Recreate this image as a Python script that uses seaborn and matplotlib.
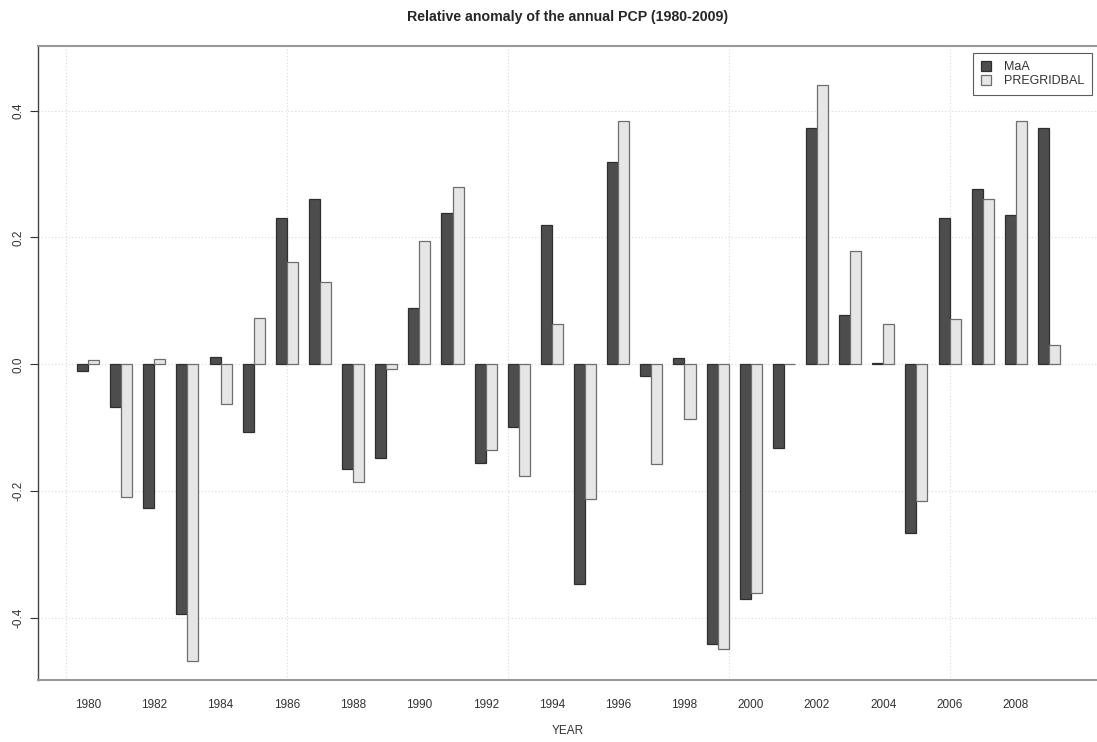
import numpy as np
import pandas as pd
import matplotlib
matplotlib.use("Agg")
import matplotlib.pyplot as plt
import seaborn as sns
from matplotlib.patches import Patch

years = list(range(1980, 2010))
maa = [-0.011, -0.068, -0.226, -0.394, 0.012, -0.107, 0.230, 0.260, -0.165, -0.148,
       0.089, 0.239, -0.155, -0.099, 0.220, -0.346, 0.319, -0.018, 0.010, -0.441,
       -0.370, -0.132, 0.373, 0.077, 0.002, -0.266, 0.230, 0.276, 0.236, 0.372]
pregridbal = [0.007, -0.209, 0.009, -0.468, -0.062, 0.073, 0.161, 0.129, -0.186, -0.008,
              0.195, 0.280, -0.136, -0.177, 0.063, -0.213, 0.383, -0.157, -0.086, -0.449,
              -0.360, 0.001, 0.440, 0.179, 0.064, -0.215, 0.071, 0.260, 0.384, 0.030]
series_names = ["MaA", "PREGRIDBAL"]
ytick_vals = [-0.4, -0.2, 0.0, 0.2, 0.4]
xtick_labels = [str(y) for y in years[::2]]

df = pd.DataFrame({
    "YEAR": [str(y) for y in years] * 2,
    "value": maa + pregridbal,
    "series": [series_names[0]] * len(years) + [series_names[1]] * len(years),
})

sns.set_style("white")
plt.rcParams["font.family"] = ["Liberation Sans", "DejaVu Sans"]

fig = plt.figure(figsize=(10.97, 7.42), dpi=100)
ax = fig.add_axes([38 / 1097, 1 - 680 / 742, 1 - 38 / 1097, (680 - 46) / 742])

colors = {"MaA": "#4d4d4d", "PREGRIDBAL": "#e6e6e6"}
edges = {"MaA": "#2e2e2e", "PREGRIDBAL": "#6e6e6e"}
sns.barplot(data=df, x="YEAR", y="value", hue="series", palette=colors,
            width=2 / 3, gap=0, edgecolor="#3a3a3a", linewidth=0.9,
            ax=ax, legend=False, zorder=3)
for cont, name in zip(ax.containers, series_names):
    for p in cont:
        p.set_edgecolor(edges[name])

# grid (R style dotted)
for yv in ytick_vals:
    ax.axhline(yv, color="#d9d9d9", lw=0.8, ls=(0, (1, 2)), zorder=1)
for xv in np.arange(-2 / 3, 30, 20 / 3):
    ax.axvline(xv, color="#d9d9d9", lw=0.8, ls=(0, (1, 2)), zorder=1)

ax.set_xlim(-1.51, 30.45)
ax.set_ylim(-0.498, 0.502)

ax.set_xticks(np.arange(0, 30, 2))
ax.set_xticklabels(xtick_labels, fontsize=8.5, color="#333333")
ax.tick_params(axis="x", length=0, pad=14)
ax.set_yticks(ytick_vals)
ax.set_yticklabels([f"{v:.1f}" for v in ytick_vals], fontsize=8.5, color="#333333",
                   rotation=90, va="center")
ax.tick_params(axis="y", length=6, width=0.8, color="#333333", pad=4, left=True)

for side in ["top", "bottom"]:
    ax.spines[side].set_color("#999999")
    ax.spines[side].set_linewidth(1.5)
ax.spines["left"].set_color("#444444")
ax.spines["left"].set_linewidth(1.0)
ax.spines["right"].set_visible(False)

ax.set_xlabel("")
ax.set_ylabel("")
fig.text(567.5 / 1097, 1 - 731 / 742, "YEAR", fontsize=8.5, color="#333333",
         ha="center", va="center")
fig.suptitle("Relative anomaly of the annual PCP (1980-2009)", fontsize=10.2,
             fontweight="bold", x=567.5 / 1097, y=1 - 17 / 742, va="center")

handles = [Patch(facecolor=colors[s], edgecolor=edges[s], linewidth=0.9) for s in series_names]
leg = ax.legend(handles, series_names, loc="upper right",
                bbox_to_anchor=((1092 - 38) / 1059, (680 - 53) / 634),
                borderaxespad=0, fontsize=9, frameon=True, fancybox=False,
                edgecolor="#333333", handlelength=0.8, handleheight=0.8,
                handletextpad=1.0, borderpad=0.65, labelspacing=0.15)
leg.get_frame().set_linewidth(0.8)
for t in leg.get_texts():
    t.set_color("#333333")

fig.savefig("out.png", dpi=100)
